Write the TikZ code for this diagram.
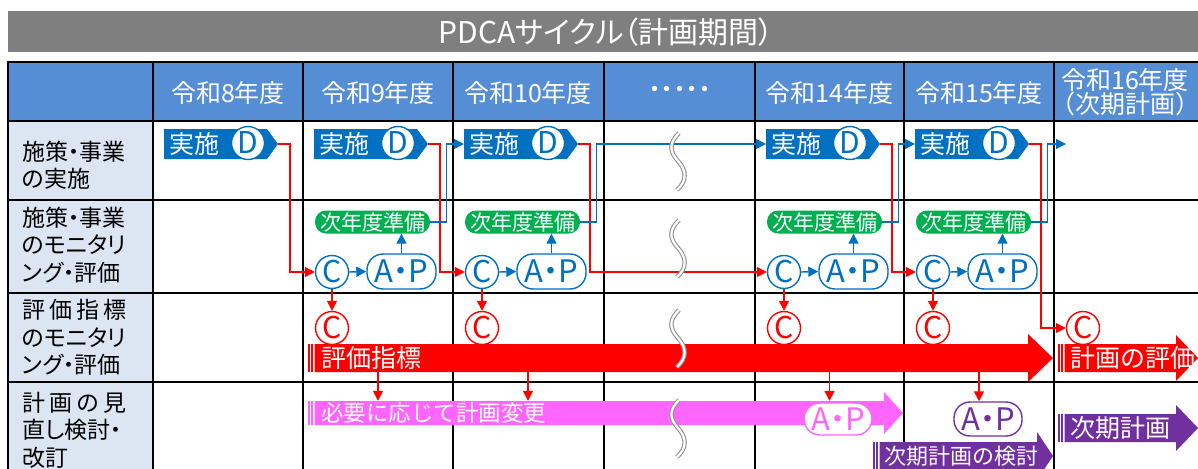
\documentclass[tikz,border=0pt]{standalone}
\usepackage{fontspec}
\setmainfont{Noto Sans CJK JP}
\newfontfamily\pfont{Noto Sans CJK JP}[RawFeature=+palt]
\usetikzlibrary{arrows.meta,calc}
\definecolor{cblue}{HTML}{0070C0}
\definecolor{cred}{HTML}{FF0000}
\definecolor{cgreen}{HTML}{00B050}
\definecolor{cpink}{HTML}{FF66FF}
\definecolor{cpurple}{HTML}{7030A0}
\definecolor{chead}{HTML}{558ED5}
\definecolor{clabel}{HTML}{DCE6F2}
\definecolor{ctitle}{HTML}{7F7F7F}
\begin{document}
\begin{tikzpicture}[x=1pt,y=-1pt,
  gridline/.style={line width=2pt, black, line cap=rect},
  hdr/.style={text=white, font=\fontsize{25}{22}\selectfont, align=center, inner sep=0pt},
  lbl/.style={anchor=west, align=left, inner sep=0pt, font=\pfont\fontsize{23}{27.5}\selectfont},
  ccirc/.style={circle, draw=cblue, fill=white, line width=1.4pt, minimum size=33pt, inner sep=0pt, text=cblue, font=\pfont\fontsize{30}{30}\selectfont},
  rcirc/.style={ccirc, draw=cred, text=cred},
  apbox/.style={rectangle, rounded corners=16pt, draw=cblue, fill=white, line width=1.4pt, minimum width=69pt, minimum height=35pt, inner sep=0pt, text=cblue, font=\pfont\fontsize{31}{31}\selectfont},
  nbox/.style={rectangle, rounded corners=11pt, fill=cgreen, minimum width=115pt, minimum height=23pt, inner sep=0pt, text=white, font=\fontsize{21}{21}\selectfont},
  barr/.style={cblue, line width=1.4pt, -{Triangle[length=10pt,width=10pt]}},
  rarr/.style={cred, line width=1.4pt, -{Triangle[length=10pt,width=10pt]}},
  bandtext/.style={anchor=west, inner sep=0pt, text=white},
  bandnode/.style={anchor=west, inner sep=0pt, draw=none},
  pics/dbox/.style={code={
    \fill[cblue] (0,-15) -- (103,-15) -- (114,0) -- (103,15) -- (0,15) -- cycle;
    \node[anchor=west, inner sep=0pt, text=white, font=\fontsize{25}{25}\selectfont] at (5,0) {実施};
    \node[ccirc] (-D) at (84,-1) {D};
    \coordinate (-tip) at (114,0);
    \coordinate (-in) at (0,0);
  }},
  pics/sarrow/.style n args={5}{code={
    \fill[#5] (0,{-#2}) rectangle (1.6,#2);
    \fill[#5] (3.4,{-#2}) rectangle (5,#2);
    \fill[#5] (6.7,{-#2}) -- (#1,{-#2}) -- (#1,{-#3}) -- ({#1+#4},0) -- (#1,#3) -- (#1,#2) -- (6.7,#2) -- cycle;
  }},
  pics/brk/.style={code={
    \draw[line width=4.4pt, ctitle!85] (1,0) .. controls (-9,10) and (-9,18) .. (0,28) .. controls (9,38) and (9,48) .. (-1,57);
    \draw[line width=2.2pt, white] (1,0) .. controls (-9,10) and (-9,18) .. (0,28) .. controls (9,38) and (9,48) .. (-1,57);
  }}
]
\useasboundingbox (0,0) rectangle (1198,468);
\clip (0,0) rectangle (1198,468);

% title and table background
\fill[ctitle] (8,11) rectangle (1210,52);
\node[text=white, inner sep=0pt, font=\pfont\fontsize{30}{30}\selectfont] (T) at (606,32) {PDCAサイクル（計画期間）};
\fill[chead] (8,62) rectangle (1210,121);
\fill[clabel] (8,121) rectangle (153,480);
\foreach \x in {8,153,303,453,604,755,904,1054} \draw[gridline] (\x,62) -- (\x,480);
\foreach \y in {62,121,200,293,382} \draw[gridline] (8,\y) -- (1210,\y);

% header
\node[hdr] (H8) at (228,92.5) {令和8年度};
\node[hdr] (H9) at (378,92.5) {令和9年度};
\node[hdr] (H10) at (528,92.5) {令和10年度};
\node[hdr, font=\pfont\fontsize{25}{25}\selectfont] (Hd) at (679.5,92.5) {・・・・・};
\node[hdr] (H14) at (829.5,92.5) {令和14年度};
\node[hdr] (H15) at (979,92.5) {令和15年度};
\node[hdr] (H16) at (1125,92) {令和16年度\\（次期計画）};

% row labels
\node[lbl] (L1) at (22,165) {施策・事業\\の実施};
\node[lbl] (L2) at (22,245) {施策・事業\\のモニタリ\\ング・評価};
\node[lbl] (L3) at (22,337.5) {\makebox[104pt][s]{評\hfill 価\hfill 指\hfill 標}\\のモニタリ\\ング・評価};
\node[lbl] (L4) at (22,430) {\makebox[104pt][s]{計\hfill 画\hfill の\hfill 見}\\直し検討・\\改訂};

% bands
\pic at (308,358) {sarrow={720}{14}{24}{25}{cred}};
\node[bandnode, minimum width=745pt, minimum height=28pt] (EB) at (308,358) {};
\node[bandtext, font=\fontsize{25}{25}\selectfont] (EBt) at (321,358) {評価指標};
\pic at (1058,358) {sarrow={118}{14}{23}{22}{cred}};
\node[bandtext, font=\fontsize{25}{25}\selectfont] (KH) at (1070,358) {計画の評価};
\pic at (308,413) {sarrow={576}{12}{21}{19}{cpink}};
\node[bandnode, minimum width=595pt, minimum height=24pt] (PB) at (308,413) {};
\node[bandtext, font=\fontsize{22.5}{22.5}\selectfont] (PBt) at (321,413) {必要に応じて計画変更};
\pic at (873,456) {sarrow={164}{14}{24}{16}{cpurple}};
\node[bandtext, font=\fontsize{22}{22}\selectfont] (KT) at (884,456) {次期計画の検討};
\pic at (1058,428) {sarrow={118}{14}{23}{22}{cpurple}};
\node[bandtext, font=\fontsize{25}{25}\selectfont] (JK) at (1070,428) {次期計画};

% D boxes
\pic (D8) at (164,144) {dbox};
\pic (D9) at (314,144) {dbox};
\pic (D10) at (464,144) {dbox};
\pic (D14) at (766,144) {dbox};
\pic (D15) at (915,144) {dbox};
\coordinate (D16in) at (1066,144);

% C, A-P, next-year boxes
\foreach \n/\s in {9/303,10/453,14/755,15/904}{
  \node[ccirc] (C\n) at (\s+29,272) {C};
  \node[apbox] (AP\n) at (\s+98.5,271.5) {A・P};
  \node[nbox] (N\n) at (\s+69.5,222) {次年度準備};
  \node[rcirc] (RC\n) at (\s+29,328) {C};
}
\node[rcirc] (RC16) at (1083,328) {C};
\node[apbox, draw=cpink, text=cpink, minimum width=68pt, minimum height=32pt] (APk) at (838,419) {A・P};
\node[apbox, draw=cpurple, text=cpurple, minimum width=68pt, minimum height=34pt] (APu) at (988,419) {A・P};

% connectors
\draw[rarr] (D8-tip) -- ++(12,0) |- (C9.west);
\draw[rarr] (D9-tip) -- ++(12,0) |- (C10.west);
\draw[rarr] (D10-tip) -- ++(12,0) |- (C14.west);
\draw[rarr] (D14-tip) -- ++(12,0) |- (C15.west);
\draw[rarr] (D15-tip) -- ++(12,0) |- (RC16.west);
\draw[barr] (N9.east) -- ++(16,0) |- (D10-in);
\draw[barr] (N10.east) -- ++(16,0) |- (D14-in);
\draw[barr] (N14.east) -- ++(16,0) |- (D15-in);
\draw[barr] (N15.east) -- ++(16,0) |- (D16in);
\foreach \n in {9,10,14,15}{
  \draw[barr] (C\n.east) -- (AP\n.west);
  \draw[barr] (AP\n.north) -- (AP\n.north |- N\n.south);
  \draw[rarr] (C\n.south) -- (RC\n.north);
}
\draw[rarr] (EB.south -| H9) -- (PB.north -| H9);
\draw[rarr] (EB.south -| H10) -- (PB.north -| H10);
\draw[rarr] (EB.south -| H14) -- (PB.north -| H14);
\draw[rarr] (EB.south -| H15) -- (APu.north -| H15);

% break marks
\pic at (678,133) {brk};
\pic at (678,220) {brk};
\pic at (678,310) {brk};
\pic at (678,400) {brk};
\end{tikzpicture}
\end{document}
